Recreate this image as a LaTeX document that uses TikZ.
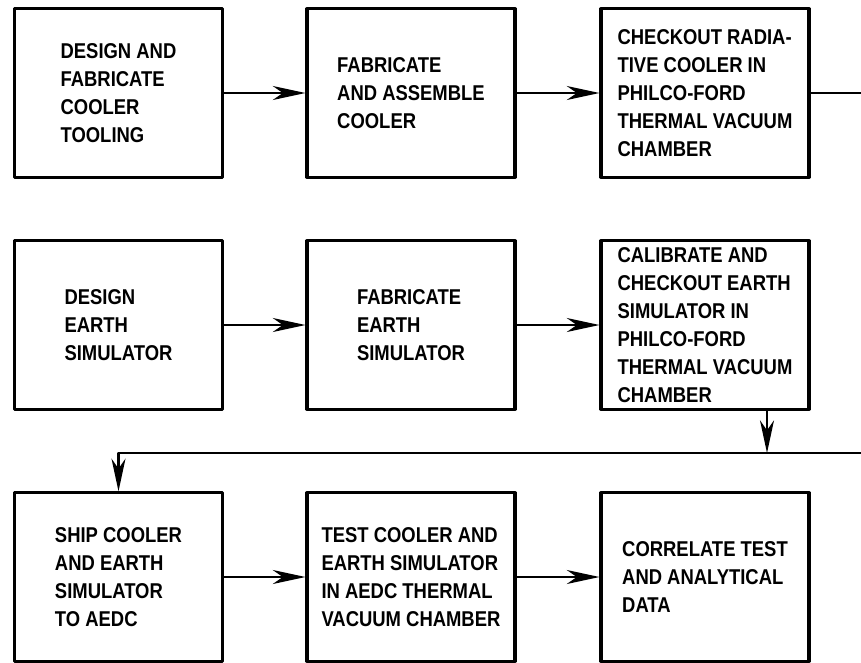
\documentclass[tikz,border=0pt]{standalone}
\usepackage{fontspec}
\setmainfont{Liberation Sans}[FakeStretch=0.86]
\usetikzlibrary{arrows.meta}
\begin{document}
\begin{tikzpicture}[x=0.03cm,y=-0.03cm,line cap=round,line join=round,
  task/.style={draw,line width=2.6pt,minimum width=6.24cm,minimum height=5.05cm,
    align=left,inner sep=0pt,font=\fontsize{18.3}{24}\selectfont\bfseries},
  flow/.style={line width=1.8pt,-{Stealth[length=0.98cm,width=0.42cm,inset=0.3cm]}},
  plain/.style={line width=1.8pt}]
\useasboundingbox (0,0) rectangle (861,662);

\node[task] (a1) at (118.5,93) {DESIGN AND\\FABRICATE\\COOLER\\TOOLING};
\node[task] (b1) at (411,93) {FABRICATE\\AND ASSEMBLE\\COOLER};
\node[task] (c1) at (705,93) {CHECKOUT RADIA-\\TIVE COOLER IN\\PHILCO-FORD\\THERMAL VACUUM\\CHAMBER};

\node[task] (a2) at (118.5,325) {DESIGN\\EARTH\\SIMULATOR};
\node[task] (b2) at (411,325) {FABRICATE\\EARTH\\SIMULATOR};
\node[task] (c2) at (705,325) {CALIBRATE AND\\CHECKOUT EARTH\\SIMULATOR IN\\PHILCO-FORD\\THERMAL VACUUM\\CHAMBER};

\node[task] (a3) at (118.5,577) {SHIP COOLER\\AND EARTH\\SIMULATOR\\TO AEDC};
\node[task] (b3) at (411,577) {TEST COOLER AND\\EARTH SIMULATOR\\IN AEDC THERMAL\\VACUUM CHAMBER};
\node[task] (c3) at (705,577) {CORRELATE TEST\\AND ANALYTICAL\\DATA};

\coordinate (edge1) at (861,93);
\coordinate (drop) at (767,453);
\coordinate (edge2) at (861,453);

\draw [flow] (a1.east) -- (b1.west);
\draw [flow] (b1.east) -- (c1.west);
\draw [plain] (c1.east) -- (edge1);

\draw [flow] (a2.east) -- (b2.west);
\draw [flow] (b2.east) -- (c2.west);
\draw [flow] (c2.south -| drop) -- (drop);
\draw [flow] (edge2) -| (a3.north);

\draw [flow] (a3.east) -- (b3.west);
\draw [flow] (b3.east) -- (c3.west);
\end{tikzpicture}
\end{document}
